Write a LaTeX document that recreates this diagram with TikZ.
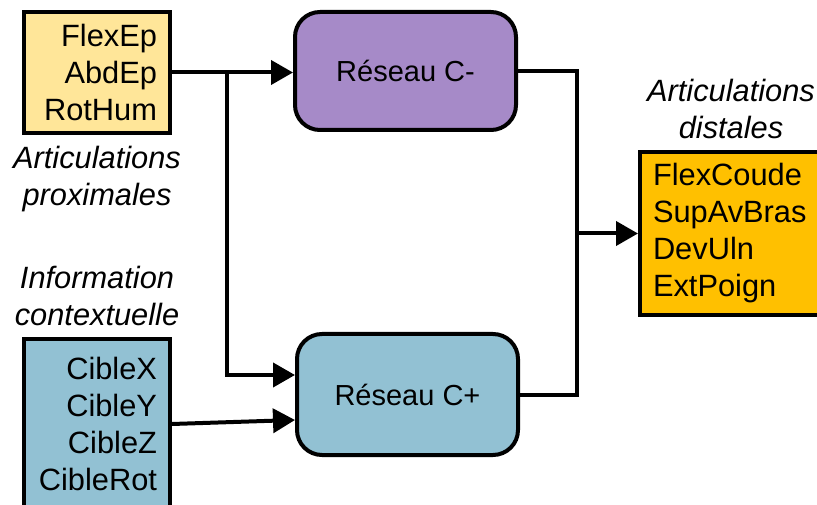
\documentclass[tikz,border=0pt]{standalone}
\usepackage{fontspec}
\setmainfont{Liberation Sans}
\usetikzlibrary{positioning,arrows.meta}
\definecolor{proxyellow}{RGB}{255,230,153}
\definecolor{ctxblue}{RGB}{146,193,211}
\definecolor{netpurple}{RGB}{166,138,200}
\definecolor{distorange}{RGB}{255,192,0}

\begin{document}
\begin{tikzpicture}[
  x=1pt, y=1pt,
  every node/.style={font=\fontsize{30.8}{37}\selectfont},
  listbox/.style={draw, line width=4pt, inner xsep=13pt, inner ysep=0pt},
  netbox/.style={draw, line width=4pt, rounded corners=25pt, minimum width=221pt, align=center, font=\fontsize{29}{35}\selectfont},
  lbl/.style={align=center, font=\fontsize{30.8}{37}\selectfont\itshape},
  arr/.style={-{Triangle[length=22pt,width=24pt]}, line width=4pt}
]
\useasboundingbox (0,0) rectangle (817,504);
\clip (0,0) rectangle (817,504);

\node[listbox, fill=proxyellow, minimum width=146pt, minimum height=121pt, text width=120pt, align=right] (prox) at (97,431.5) {FlexEp\\AbdEp\\RotHum};
\node[listbox, fill=ctxblue, minimum width=146pt, minimum height=170pt, text width=120pt, align=right] (ctx) at (97,80) {CibleX\\CibleY\\CibleZ\\CibleRot};
\node[netbox, fill=netpurple, minimum height=118pt] (cm) at (405.5,433) {Réseau C-};
\node[netbox, fill=ctxblue, minimum height=121pt] (cp) at (407.5,109.5) {Réseau C+};
\node[listbox, fill=distorange, minimum width=190pt, minimum height=163pt, text width=164pt, align=left] (dist) at (735,270.5) {FlexCoude\\SupAvBras\\DevUln\\ExtPoign};

\node[lbl] (proxlbl) at (97,325) {Articulations\\proximales};
\node[lbl] (ctxlbl) at (97,208) {Information\\contextuelle};
\node[lbl] (distlbl) at (731,395) {Articulations\\distales};

\coordinate[right=55pt of prox.east] (split);
\coordinate[left=61pt of dist.west] (merge);

\draw[arr] (prox.east) -- (prox.east -| cm.west);
\draw[arr] (split) |- ([yshift=19.5pt]cp.west);
\draw[arr] (ctx.east) -- ([yshift=-25.5pt]cp.west);
\draw[line width=4pt] (cm.east) -| (merge) |- (cp.east);
\draw[arr] (merge) -- (dist.west);
\end{tikzpicture}
\end{document}
